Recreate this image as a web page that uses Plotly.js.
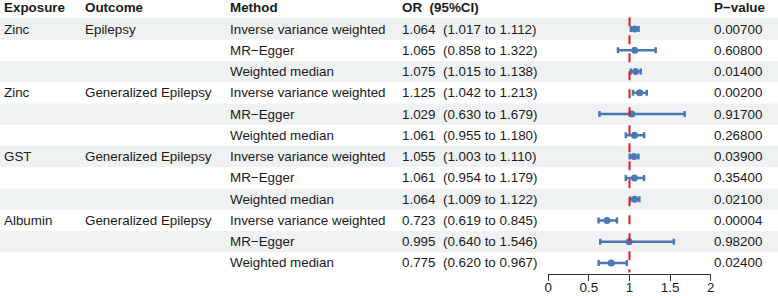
<!DOCTYPE html>
<html><head><meta charset="utf-8">
<script src="https://cdn.plot.ly/plotly-3.0.1.min.js"></script>
<style>html,body{margin:0;padding:0;background:#fff;}#chart{width:778px;height:296px;}</style>
</head><body><div id="chart"></div>
<script>
const exposures = ["Zinc","","","Zinc","","","GST","","","Albumin","",""];
const outcomes = ["Epilepsy","","","Generalized Epilepsy","","","Generalized Epilepsy","","","Generalized Epilepsy","",""];
const methods = ["Inverse variance weighted","MR\u2212Egger","Weighted median",
                 "Inverse variance weighted","MR\u2212Egger","Weighted median",
                 "Inverse variance weighted","MR\u2212Egger","Weighted median",
                 "Inverse variance weighted","MR\u2212Egger","Weighted median"];
const orVals = [1.064,1.065,1.075,1.125,1.029,1.061,1.055,1.061,1.064,0.723,0.995,0.775];
const ciLow  = [1.017,0.858,1.015,1.042,0.630,0.955,1.003,0.954,1.009,0.619,0.640,0.620];
const ciHigh = [1.112,1.322,1.138,1.213,1.679,1.180,1.110,1.179,1.122,0.845,1.546,0.967];
const pValues = ["0.00700","0.60800","0.01400","0.00200","0.91700","0.26800","0.03900","0.35400","0.02100","0.00004","0.98200","0.02400"];
const headers = ["Exposure","Outcome","Method","OR\u00a0\u00a0(95%CI)","P\u2212value"];
const xTicks = [0,0.5,1,1.5,2];

const W = 778, H = 296;
const FONT = "Liberation Sans, Arial, sans-serif";
const FS = 13.4;
const TXT = "#1a1a1a";
const rows = orVals.map((_, i) => i + 1);

// column left edges in pixels
const colX = [2, 83, 228, 400, 712];
const px = v => v / W;

const annotations = [];
function addText(x, y, text, bold) {
  annotations.push({xref: "paper", yref: "y", x: px(x), y: y, text: bold ? "<b>" + text + "</b>" : text,
    showarrow: false, xanchor: "left", yanchor: "middle", font: {family: FONT, size: FS, color: TXT}});
}
headers.forEach((h, j) => addText(colX[j], 0, h, true));
rows.forEach((r, i) => {
  if (exposures[i]) addText(colX[0], r, exposures[i]);
  if (outcomes[i]) addText(colX[1], r, outcomes[i]);
  addText(colX[2], r, methods[i]);
  addText(colX[3], r, orVals[i].toFixed(3) + "\u00a0\u00a0(" + ciLow[i].toFixed(3) + " to " + ciHigh[i].toFixed(3) + ")");
  addText(colX[4], r, pValues[i]);
});

const shapes = [];
rows.forEach(r => {
  if (r % 2 === 1) shapes.push({type: "rect", xref: "paper", yref: "y", x0: 0, x1: 1, y0: r - 0.5, y1: r + 0.5,
    fillcolor: "#eff2f2", line: {width: 0}, layer: "below"});
});
shapes.push({type: "line", xref: "x", yref: "y", x0: 1, x1: 1, y0: 0.45, y1: 12.45,
  line: {color: "#e31a1c", width: 2, dash: "dash"}, layer: "above"});

const trace = {
  type: "scatter", mode: "markers", x: orVals, y: rows,
  marker: {color: "#4a78b6", size: 7},
  error_x: {type: "data", symmetric: false,
    array: orVals.map((v, i) => ciHigh[i] - v),
    arrayminus: orVals.map((v, i) => v - ciLow[i]),
    color: "#4a78b6", thickness: 2.5, width: 3},
  hoverinfo: "skip", cliponaxis: false
};

// y: row 1 centre at 29px, spacing 21.27px
const r0 = 29, dr = 21.27;
const yTop = (0 - r0) / dr + 1, yBot = (H - r0) / dr + 1;

const layout = {
  width: W, height: H, margin: {l: 0, r: 0, t: 0, b: 0},
  paper_bgcolor: "#fff", plot_bgcolor: "rgba(0,0,0,0)", showlegend: false,
  xaxis: {domain: [548.3 / W, 710.7 / W], range: [0, 2], anchor: "free", position: (H - 274) / H,
    showgrid: false, zeroline: false, showline: true, linecolor: "#333", linewidth: 1,
    ticks: "outside", ticklen: 6, tickcolor: "#333", tickwidth: 1, ticklabelstandoff: -5,
    tickvals: xTicks, ticktext: xTicks.map(String),
    tickfont: {family: FONT, size: FS, color: TXT}, fixedrange: true},
  yaxis: {domain: [0, 1], range: [yBot, yTop], visible: false, showgrid: false, zeroline: false, fixedrange: true},
  shapes: shapes, annotations: annotations
};
Plotly.newPlot("chart", [trace], layout, {displayModeBar: false, staticPlot: true});
</script></body></html>
